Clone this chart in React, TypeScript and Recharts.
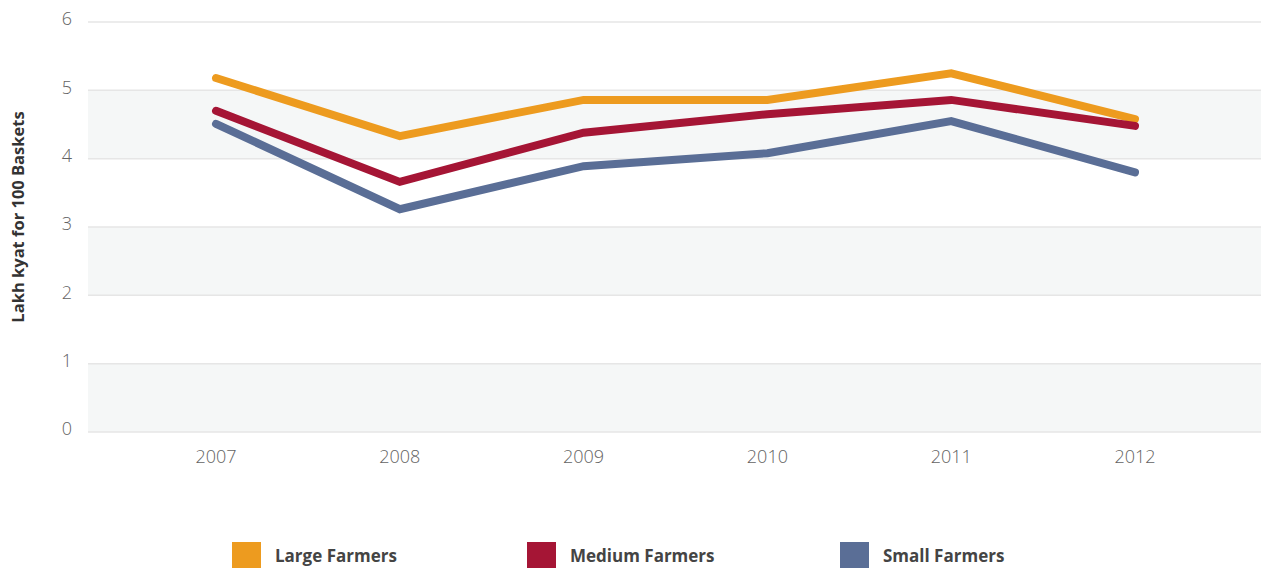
import React from "react";
import { LineChart, Line, XAxis, YAxis, CartesianGrid, Label } from "recharts";

const years = ["2007", "2008", "2009", "2010", "2011", "2012"];
const largeFarmers = [5.18, 4.33, 4.86, 4.86, 5.25, 4.58];
const mediumFarmers = [4.7, 3.66, 4.38, 4.65, 4.86, 4.48];
const smallFarmers = [4.51, 3.26, 3.89, 4.08, 4.55, 3.8];
const yTicks = [0, 1, 2, 3, 4, 5, 6];

const series = [
  { key: "large", name: "Large Farmers", color: "#ED9B1F" },
  { key: "medium", name: "Medium Farmers", color: "#A51535" },
  { key: "small", name: "Small Farmers", color: "#5A6E96" },
];

const chartData = years.map((year, i) => ({
  year,
  large: largeFarmers[i],
  medium: mediumFarmers[i],
  small: smallFarmers[i],
}));

const FONT = "'Open Sans', sans-serif";

export default function App() {
  return (
    <div
      style={{
        position: "absolute",
        left: 0,
        top: 0,
        width: 1261,
        height: 568,
        background: "#fff",
        fontFamily: FONT,
      }}
    >
      <LineChart
        width={1261}
        height={568}
        data={chartData}
        margin={{ top: 22, right: 0, left: 0, bottom: 106 }}
      >
        <CartesianGrid
          vertical={false}
          stroke="#E6E6E6"
          strokeWidth={1.5}
          horizontalFill={["#FFFFFF", "#F5F7F7"]}
          fillOpacity={1}
        />
        <XAxis
          dataKey="year"
          height={30}
          axisLine={false}
          tickLine={false}
          padding={{ left: 128, right: 126 }}
          tickMargin={12}
          tick={{ fill: "#636363", fontSize: 18, fontFamily: FONT, fontWeight: 300 }}
        />
        <YAxis
          width={88}
          domain={[0, 6]}
          ticks={yTicks}
          axisLine={false}
          tickLine={false}
          tickMargin={10}
          tick={{ fill: "#636363", fontSize: 18, fontFamily: FONT, fontWeight: 300, dy: -3 }}
        >
          <Label
            value="Lakh kyat for 100 Baskets"
            angle={-90}
            position="insideLeft"
            offset={18}
            dy={-10}
            style={{
              fill: "#333",
              fontSize: 16.5,
              fontWeight: 700,
              fontFamily: FONT,
              textAnchor: "middle",
            }}
          />
        </YAxis>
        {series.map((s) => (
          <Line
            key={s.key}
            type="linear"
            dataKey={s.key}
            name={s.name}
            stroke={s.color}
            strokeWidth={8}
            strokeLinecap="round"
            strokeLinejoin="miter"
            dot={false}
            activeDot={false}
            isAnimationActive={false}
          />
        ))}
      </LineChart>
      <div
        style={{
          position: "absolute",
          top: 542,
          left: 232,
          display: "flex",
          alignItems: "center",
        }}
      >
        {series.map((s, i) => (
          <div
            key={s.key}
            style={{
              display: "flex",
              alignItems: "center",
              width: i === 0 ? 295 : i === 1 ? 313 : 200,
            }}
          >
            <div style={{ width: 29, height: 27, background: s.color, marginRight: 14 }} />
            <span style={{ fontSize: 17, fontWeight: 700, color: "#444", fontFamily: FONT }}>
              {s.name}
            </span>
          </div>
        ))}
      </div>
    </div>
  );
}
